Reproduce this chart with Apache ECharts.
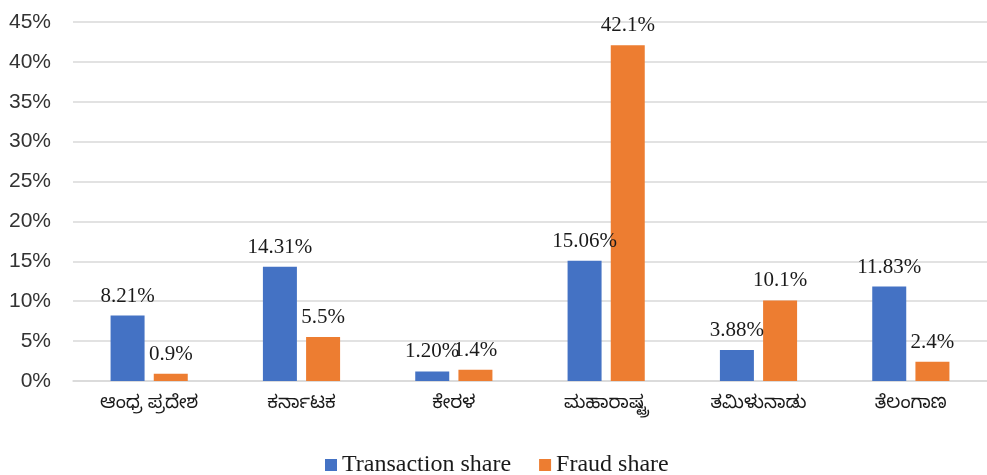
<!DOCTYPE html>
<html>
<head>
<meta charset="utf-8">
<script src="https://cdn.jsdelivr.net/npm/echarts@6/dist/echarts.min.js"></script>
<style>
  html, body { margin: 0; padding: 0; background: #fff; }
  #chart { width: 987px; height: 475px; }
</style>
</head>
<body>
<div id="chart"></div>
<script>
// states (Kannada)
const states = ['ಆಂಧ್ರ ಪ್ರದೇಶ', 'ಕರ್ನಾಟಕ', 'ಕೇರಳ', 'ಮಹಾರಾಷ್ಟ್ರ', 'ತಮಿಳುನಾಡು', 'ತೆಲಂಗಾಣ'];
const transactionShare = [8.21, 14.31, 1.20, 15.06, 3.88, 11.83];
const fraudShare = [0.9, 5.5, 1.4, 42.1, 10.1, 2.4];
const yTicks = [0, 5, 10, 15, 20, 25, 30, 35, 40, 45];

const chart = echarts.init(document.getElementById('chart'));

const labelStyle = {
  show: true,
  position: 'top',
  distance: 9,
  fontFamily: '"Liberation Serif", "Times New Roman", serif',
  fontSize: 21,
  color: '#1a1a1a'
};

const option = {
  animation: false,
  backgroundColor: '#fff',
  grid: {
    left: 73,
    top: 22,
    width: 920,
    height: 359
  },
  legend: {
    top: 448,
    left: 320,
    itemWidth: 12,
    itemHeight: 12,
    itemGap: 28,
    itemStyle: { borderWidth: 0 },
    icon: 'rect',
    textStyle: {
      fontFamily: '"Liberation Serif", "Times New Roman", serif',
      fontSize: 24,
      color: '#1a1a1a'
    },
    data: ['Transaction share', 'Fraud share']
  },
  xAxis: {
    type: 'category',
    data: states,
    axisLine: { lineStyle: { color: '#d9d9d9', width: 1.5 } },
    axisTick: { show: false },
    axisLabel: {
      margin: 16,
      fontSize: 18.5,
      color: '#1a1a1a',
      fontFamily: '"Noto Sans Kannada", "Noto Sans", sans-serif'
    }
  },
  yAxis: {
    type: 'value',
    min: yTicks[0],
    max: yTicks[yTicks.length - 1],
    interval: 5,
    axisLine: { show: false },
    axisTick: { show: false },
    splitLine: { lineStyle: { color: '#d9d9d9', width: 1.5 } },
    axisLabel: {
      margin: 22,
      fontSize: 21,
      color: '#333',
      fontFamily: '"Liberation Sans", "Open Sans", sans-serif',
      formatter: v => v + '%'
    }
  },
  series: [
    {
      name: 'Transaction share',
      type: 'bar',
      data: transactionShare,
      barWidth: 34,
      barGap: '27%',
      itemStyle: { color: '#4472C4' },
      label: Object.assign({}, labelStyle, {
        formatter: p => p.value.toFixed(2) + '%'
      })
    },
    {
      name: 'Fraud share',
      type: 'bar',
      data: fraudShare,
      barWidth: 34,
      barGap: '27%',
      itemStyle: { color: '#ED7D31' },
      label: Object.assign({}, labelStyle, {
        formatter: p => p.value.toFixed(1) + '%'
      })
    }
  ]
};

chart.setOption(option);
</script>
</body>
</html>
